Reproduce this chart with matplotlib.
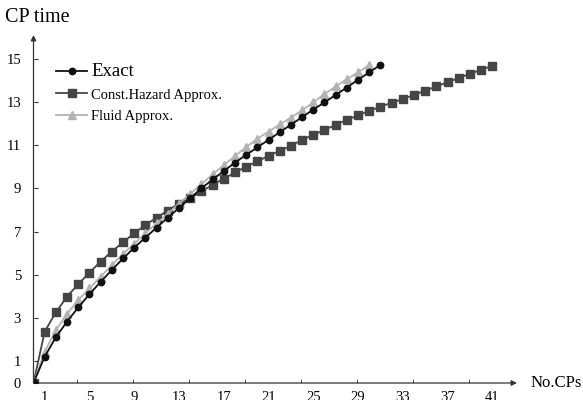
import matplotlib

matplotlib.use("Agg")
import matplotlib.pyplot as plt
import numpy as np

# values
exact = [0, 1.22, 2.12, 2.84, 3.50, 4.11, 4.68, 5.23, 5.76, 6.26, 6.73, 7.19,
         7.65, 8.10, 8.55, 9.00, 9.42, 9.80, 10.20, 10.55, 10.90, 11.25, 11.60,
         11.95, 12.30, 12.65, 12.98, 13.33, 13.67, 14.03, 14.37, 14.72]
const_hazard = [0, 2.38, 3.27, 4.00, 4.57, 5.11, 5.62, 6.08, 6.51, 6.93, 7.31,
                7.65, 7.98, 8.30, 8.55, 8.86, 9.17, 9.45, 9.74, 10.01, 10.25,
                10.51, 10.74, 10.97, 11.25, 11.48, 11.71, 11.94, 12.18, 12.38,
                12.59, 12.78, 12.97, 13.13, 13.33, 13.53, 13.72, 13.92, 14.11,
                14.31, 14.49, 14.68]
fluid = [0, 1.45, 2.45, 3.20, 3.84, 4.38, 4.92, 5.46, 5.97, 6.45, 6.93, 7.38,
         7.83, 8.30, 8.75, 9.20, 9.65, 10.08, 10.50, 10.92, 11.30, 11.63,
         11.96, 12.28, 12.62, 12.98, 13.37, 13.72, 14.06, 14.37, 14.72]
x_labels = [1, 5, 9, 13, 17, 21, 25, 29, 33, 37, 41]
y_ticks = [0, 1, 3, 5, 7, 9, 11, 13, 15]

plt.rcParams.update({
    "font.family": ["Liberation Serif", "DejaVu Serif"],
    "font.size": 10,
})

fig = plt.figure(figsize=(5.83, 4.0), dpi=100)
ax = fig.add_axes([33.5 / 583, 17 / 400, (517 - 33.5) / 583, (383 - 35) / 400])
ax.set_xlim(0, 43.2)
ax.set_ylim(0, 16.1)

c_exact = "#111111"
c_ch = "#454545"
c_fluid = "#b3b3b3"

ax.plot(np.arange(len(const_hazard)), const_hazard, color=c_ch, lw=1.3,
        marker="s", ms=5.2, mec=c_ch, mfc=c_ch, label="Const.Hazard Approx.", zorder=3)
ax.plot(np.arange(len(fluid)), fluid, color=c_fluid, lw=1.3,
        marker="^", ms=5.8, mec=c_fluid, mfc=c_fluid, label="Fluid Approx.", zorder=4)
ax.plot(np.arange(len(exact)), exact, color=c_exact, lw=1.3,
        marker="o", ms=4.6, mec=c_exact, mfc=c_exact, label="Exact", zorder=5)

for s in ["top", "right", "left", "bottom"]:
    ax.spines[s].set_visible(False)

# axis lines with arrow heads
ax.annotate("", xy=(1.0, 0), xytext=(0, 0), xycoords="axes fraction",
            arrowprops=dict(arrowstyle="-|>", color="#333333", lw=0.9,
                            mutation_scale=8, shrinkA=0, shrinkB=0))
ax.annotate("", xy=(0, 1.0), xytext=(0, 0), xycoords="axes fraction",
            arrowprops=dict(arrowstyle="-|>", color="#333333", lw=0.9,
                            mutation_scale=8, shrinkA=0, shrinkB=0))

ax.set_xticks(x_labels)
ax.set_xticklabels([str(v) for v in x_labels])
ax.set_xticks(np.arange(3.9, 40, 5), minor=True)
ax.tick_params(axis="x", which="major", length=0, pad=5.5, labelsize=10.5)
ax.tick_params(axis="x", which="minor", direction="in", length=3, color="#333333")
ax.set_yticks(y_ticks)
ax.tick_params(axis="y", direction="in", length=3, pad=9, color="#333333", labelsize=10.5)

fig.text(5 / 583, 1 - 18 / 400, "CP time", ha="left", va="center", fontsize=14.5)
fig.text(531 / 583, 1 - 383 / 400, "No.CPs", ha="left", va="center", fontsize=12)

handles, labels = ax.get_legend_handles_labels()
order = [2, 0, 1]
leg = ax.legend([handles[i] for i in order], [labels[i] for i in order],
                loc="upper left", bbox_to_anchor=(49 / 583, 1 - 56 / 400),
                bbox_transform=fig.transFigure, frameon=False,
                handlelength=2.1, handletextpad=0.3, labelspacing=0.55,
                borderpad=0, fontsize=10.5)
leg.get_texts()[0].set_fontsize(13.5)

fig.savefig("out.png", dpi=100)
